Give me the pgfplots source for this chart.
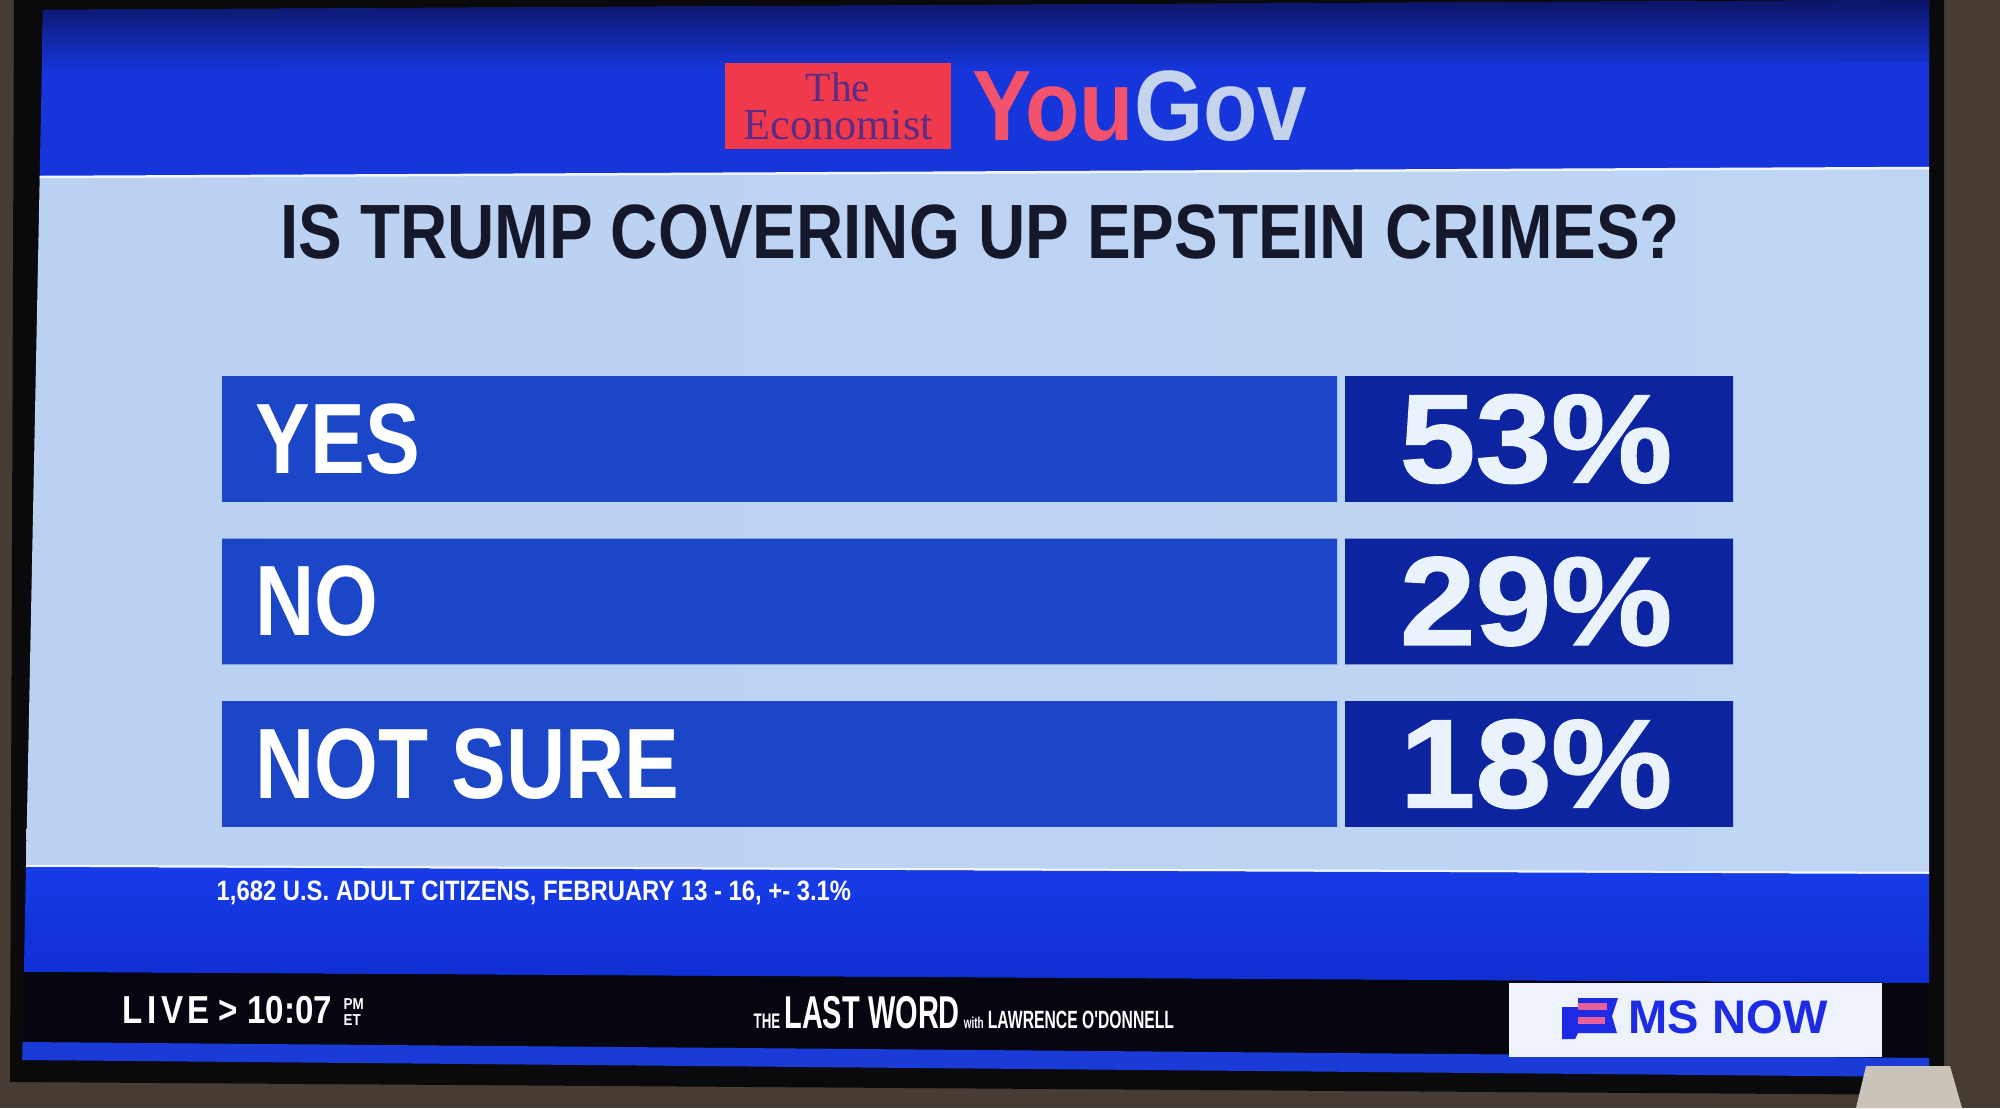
\documentclass[border=0pt]{standalone}
\usepackage{pgfplots}
\pgfplotsset{compat=1.18}
\usepackage{pgfplotstable}
\usepackage{fontspec}
\setmainfont{Liberation Sans}
\newfontfamily\titlef{Liberation Sans}[FakeStretch=0.85]
\newfontfamily\labelf{Liberation Sans}[FakeStretch=0.82]
\newfontfamily\valf{Liberation Sans}[FakeStretch=1.08,FakeBold=1.2]
\newfontfamily\notef{Liberation Sans}[FakeStretch=0.85]
\newfontfamily\impf{Liberation Sans}[FakeStretch=0.63]
\newfontfamily\econf{Liberation Serif}
\newfontfamily\yougovf{Liberation Sans}[FakeStretch=0.89]

\definecolor{wall}{HTML}{463C34}
\definecolor{bezel}{HTML}{0A0A0D}
\definecolor{hdrTop}{HTML}{0B1566}
\definecolor{hdrBot}{HTML}{1636DC}
\definecolor{panelL}{HTML}{BBD1F2}
\definecolor{panelM}{HTML}{CFE1F9}
\definecolor{panelR}{HTML}{BFD5F4}
\definecolor{barblue}{HTML}{1C46C8}
\definecolor{boxnavy}{HTML}{0C249F}
\definecolor{footTop}{HTML}{173CE8}
\definecolor{footBot}{HTML}{0F2ED2}
\definecolor{ticker}{HTML}{05060F}
\definecolor{stripc}{HTML}{1B3BD9}
\definecolor{econred}{HTML}{F03A4C}
\definecolor{econtxt}{HTML}{5B2C86}
\definecolor{youred}{HTML}{F2526B}
\definecolor{govgray}{HTML}{C6D3EC}
\definecolor{titletxt}{HTML}{15182A}
\definecolor{valtxt}{HTML}{EAF2FC}
\definecolor{msblue}{HTML}{1E2BE4}
\definecolor{mspink}{HTML}{E8609A}
\definecolor{mswhite}{HTML}{EEF3FB}
\definecolor{lamp}{HTML}{C9C3B8}

% poll results: layout lengths of the bar segments (pixels) and the shares
\pgfplotstableread{
cat label lab gap box pct
0 YES 1115 8 388 53
1 NO 1115 8 388 29
2 {NOT SURE} 1115 8 388 18
}\polltable

\begin{document}
\begin{tikzpicture}
% ---------- background / screen frame in pixel coordinates ----------
\begin{axis}[at={(0,0)}, anchor=south west, scale only axis,
  width=200mm, height=110.8mm,
  xmin=0, xmax=2000, ymin=0, ymax=1108, y dir=reverse,
  hide axis, clip=false]
\fill[wall] (0,0) rectangle (2000,1108);
\fill[bezel] (14,0) -- (1944,0) -- (1944,1095) -- (10,1082) -- cycle;
% header
\fill[hdrBot] (43,10) -- (1929,0) -- (1929,168) -- (39.7,177) -- cycle;
\shade[top color=hdrTop, bottom color=hdrBot] (43,10) -- (1929,0) -- (1929,62) -- (42,72) -- cycle;
% light panel
\shade[left color=panelL, middle color=panelM, right color=panelR]
  (39.7,177) -- (1929,168) -- (1929,873) -- (26,866) -- cycle;
\draw[white!70!panelM, line width=0.25mm] (39.7,177) -- (1929,168);
\draw[white!70!panelM, line width=0.25mm] (26,866) -- (1929,873);
% footer
\shade[top color=footTop, bottom color=footBot]
  (26,867) -- (1929,874) -- (1929,983) -- (23.9,972) -- cycle;
% ticker
\fill[ticker] (23.9,972) -- (1929,983) -- (1929,1058) -- (22.6,1042) -- cycle;
\fill[stripc] (22.6,1042) -- (1929,1058) -- (1929,1077) -- (22.2,1060) -- cycle;
% logos
\fill[econred] (725,63) rectangle (951,149);
\node[anchor=base, inner sep=0, text=econtxt, font=\econf\fontsize{11.8}{13}\selectfont] at (838,101) {The};
\node[anchor=base, inner sep=0, text=econtxt, font=\econf\fontsize{12.6}{13}\selectfont] at (838,139) {Economist};
\node[anchor=base west, inner sep=0, font=\yougovf\bfseries\fontsize{28.45}{30}\selectfont] at (972,140)
  {\textcolor{youred}{You}\textcolor{govgray}{Gov}};
% title
\node[anchor=base, inner sep=0, text=titletxt, font=\titlef\bfseries\fontsize{21.9}{24}\selectfont] at (980,258)
  {IS TRUMP COVERING UP EPSTEIN CRIMES?};
% footnote
\node[anchor=base west, inner sep=0, text=white, font=\notef\bfseries\fontsize{7.97}{9}\selectfont] at (216,900)
  {1,682 U.S. ADULT CITIZENS, FEBRUARY 13 - 16, +- 3.1\%};
% ticker texts
\node[anchor=base west, inner sep=0, text=white, font=\notef\bfseries\fontsize{11.1}{12}\selectfont] at (122,1023)
  {L\hspace{0.45mm}I\hspace{0.45mm}V\hspace{0.45mm}E\hspace{0.9mm}>\hspace{0.9mm}10:07};
\node[anchor=north west, inner sep=0, align=left, text=white, font=\notef\bfseries\fontsize{4.5}{4.6}\selectfont] at (343,998) {PM\\ET};
\node[anchor=base west, inner sep=0, text=white, font=\impf\bfseries] at (753,1028)
  {{\fontsize{6}{6}\selectfont THE}\hspace{0.4mm}{\fontsize{13.1}{13}\selectfont LAST WORD}\hspace{0.4mm}{\fontsize{4.5}{5}\selectfont with}\hspace{0.4mm}{\fontsize{7.1}{7}\selectfont LAWRENCE O'DONNELL}};
% MS NOW
\fill[mswhite] (1509,983) rectangle (1882,1057);
\fill[msblue] (1562,1007) -- (1578,1007) -- (1578,998) -- (1618,998) -- (1612,1016) -- (1617,1033)
  -- (1578,1033) -- (1575,1039) -- (1562,1039) -- cycle;
\fill[mspink] (1578,1003) rectangle (1607,1010);
\fill[mspink] (1578,1017) rectangle (1605,1024);
\node[anchor=base west, inner sep=0, text=msblue, font=\bfseries\fontsize{13.4}{14}\selectfont] at (1628,1033) {MS NOW};
% lamp
\fill[lamp] (1866,1066) -- (1950,1066) -- (1962,1108) -- (1856,1108) -- cycle;
\end{axis}

% ---------- the poll bars ----------
\begin{axis}[at={(22.2mm,28.1mm)}, anchor=south west, scale only axis,
  width=151.1mm, height=45.1mm,
  xbar stacked, bar width=0.775,
  xmin=0, xmax=1511, ymin=-0.3877, ymax=2.3877, y dir=reverse,
  hide axis, clip=false]
\addplot[fill=barblue, draw=none,
  point meta=explicit symbolic, nodes near coords,
  every node near coord/.append style={anchor=west, xshift=-52.45mm, inner sep=0,
    text=white, font=\labelf\bfseries\fontsize{28.45}{30}\selectfont}]
  table[x=lab, y=cat, meta=label] {\polltable};
\addplot[fill=none, draw=none] table[x=gap, y=cat] {\polltable};
\addplot[fill=boxnavy, draw=none,
  point meta=explicit symbolic, nodes near coords={\pgfplotspointmeta\%},
  every node near coord/.append style={anchor=center, xshift=-0.3mm, inner sep=0,
    text=valtxt, font=\valf\bfseries\fontsize{35.85}{38}\selectfont}]
  table[x=box, y=cat, meta=pct] {\polltable};
\end{axis}
\end{tikzpicture}
\end{document}
